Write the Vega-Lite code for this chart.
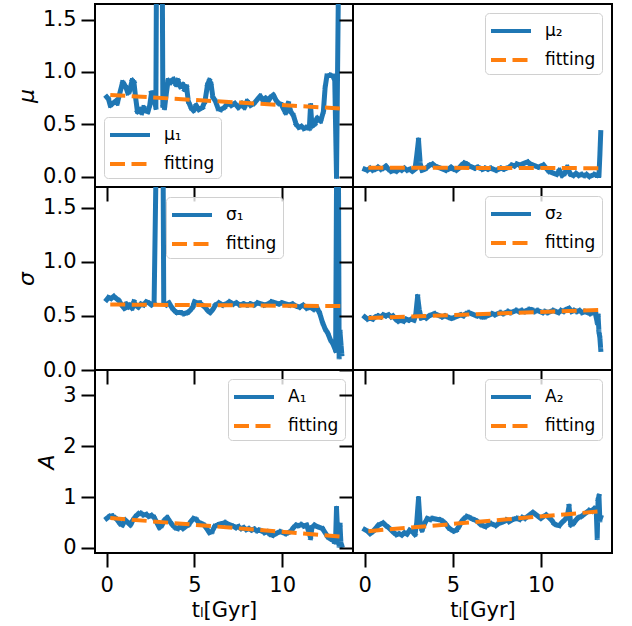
{
 "$schema": "https://vega.github.io/schema/vega-lite/v6.json",
 "background": "white",
 "padding": {"left": 14, "top": 3, "right": 10, "bottom": 2},
 "columns": 2,
 "spacing": 0,
 "bounds": "flush",
 "resolve": {"scale": {"color": "independent", "strokeDash": "independent", "x": "independent", "y": "independent"}, "legend": {"color": "independent", "strokeDash": "independent"}},
 "config": {
  "font": "DejaVu Sans",
  "view": {"stroke": "black", "strokeWidth": 2},
  "axis": {"domain": false, "grid": false, "tickColor": "black", "tickWidth": 2, "tickSize": 14, "labelColor": "black", "labelFont": "DejaVu Sans", "labelFontSize": 21, "labelPadding": 5, "titleFont": "DejaVu Sans", "titleFontSize": 21, "titleFontWeight": "normal", "titleColor": "black"},
  "legend": {"orient": "none", "title": null, "labelFont": "DejaVu Sans", "labelFontSize": 17, "labelColor": "black", "symbolType": "M-2,0H2", "symbolSize": 400, "symbolStrokeWidth": 4, "symbolOffset": 8, "labelOffset": 22, "padding": 6, "rowPadding": 9, "fillColor": "rgba(255,255,255,0.8)", "strokeColor": "#d0d0d0", "cornerRadius": 4}
 },
 "concat": [
  {
   "width": 258, "height": 183,
   "layer": [
    {"data": {"values": [
     {"t":0.0,"v":0.76,"s":"μ₁"},{"t":0.1,"v":0.74,"s":"μ₁"},{"t":0.2,"v":0.68,"s":"μ₁"},{"t":0.35,"v":0.7,"s":"μ₁"},{"t":0.5,"v":0.72,"s":"μ₁"},{"t":0.6,"v":0.7,"s":"μ₁"},{"t":0.75,"v":0.8,"s":"μ₁"},{"t":0.9,"v":0.9,"s":"μ₁"},{"t":1.0,"v":0.88,"s":"μ₁"},{"t":1.1,"v":0.85,"s":"μ₁"},{"t":1.2,"v":0.8,"s":"μ₁"},{"t":1.3,"v":0.82,"s":"μ₁"},{"t":1.45,"v":0.92,"s":"μ₁"},{"t":1.55,"v":0.9,"s":"μ₁"},{"t":1.65,"v":0.75,"s":"μ₁"},{"t":1.75,"v":0.62,"s":"μ₁"},{"t":1.9,"v":0.64,"s":"μ₁"},{"t":2.0,"v":0.61,"s":"μ₁"},{"t":2.1,"v":0.66,"s":"μ₁"},{"t":2.2,"v":0.63,"s":"μ₁"},{"t":2.35,"v":0.62,"s":"μ₁"},{"t":2.45,"v":0.68,"s":"μ₁"},{"t":2.55,"v":0.8,"s":"μ₁"},{"t":2.65,"v":0.74,"s":"μ₁"},{"t":2.75,"v":0.7,"s":"μ₁"},{"t":2.8,"v":0.66,"s":"μ₁"},{"t":2.85,"v":2.5,"s":"μ₁"},{"t":3.15,"v":2.5,"s":"μ₁"},{"t":3.2,"v":0.68,"s":"μ₁"},{"t":3.3,"v":0.66,"s":"μ₁"},{"t":3.4,"v":0.8,"s":"μ₁"},{"t":3.5,"v":0.92,"s":"μ₁"},{"t":3.65,"v":0.9,"s":"μ₁"},{"t":3.8,"v":0.93,"s":"μ₁"},{"t":3.95,"v":0.88,"s":"μ₁"},{"t":4.05,"v":0.92,"s":"μ₁"},{"t":4.2,"v":0.86,"s":"μ₁"},{"t":4.35,"v":0.88,"s":"μ₁"},{"t":4.45,"v":0.83,"s":"μ₁"},{"t":4.55,"v":0.86,"s":"μ₁"},{"t":4.65,"v":0.72,"s":"μ₁"},{"t":4.8,"v":0.66,"s":"μ₁"},{"t":4.95,"v":0.63,"s":"μ₁"},{"t":5.1,"v":0.68,"s":"μ₁"},{"t":5.25,"v":0.64,"s":"μ₁"},{"t":5.45,"v":0.66,"s":"μ₁"},{"t":5.6,"v":0.72,"s":"μ₁"},{"t":5.75,"v":0.88,"s":"μ₁"},{"t":5.85,"v":0.92,"s":"μ₁"},{"t":5.95,"v":0.88,"s":"μ₁"},{"t":6.05,"v":0.76,"s":"μ₁"},{"t":6.2,"v":0.72,"s":"μ₁"},{"t":6.35,"v":0.65,"s":"μ₁"},{"t":6.5,"v":0.64,"s":"μ₁"},{"t":6.7,"v":0.66,"s":"μ₁"},{"t":6.9,"v":0.7,"s":"μ₁"},{"t":7.1,"v":0.68,"s":"μ₁"},{"t":7.3,"v":0.7,"s":"μ₁"},{"t":7.5,"v":0.66,"s":"μ₁"},{"t":7.7,"v":0.7,"s":"μ₁"},{"t":7.85,"v":0.66,"s":"μ₁"},{"t":8.0,"v":0.72,"s":"μ₁"},{"t":8.2,"v":0.68,"s":"μ₁"},{"t":8.4,"v":0.7,"s":"μ₁"},{"t":8.6,"v":0.74,"s":"μ₁"},{"t":8.75,"v":0.77,"s":"μ₁"},{"t":8.9,"v":0.73,"s":"μ₁"},{"t":9.05,"v":0.75,"s":"μ₁"},{"t":9.2,"v":0.72,"s":"μ₁"},{"t":9.35,"v":0.76,"s":"μ₁"},{"t":9.5,"v":0.78,"s":"μ₁"},{"t":9.65,"v":0.73,"s":"μ₁"},{"t":9.8,"v":0.7,"s":"μ₁"},{"t":9.95,"v":0.69,"s":"μ₁"},{"t":10.1,"v":0.64,"s":"μ₁"},{"t":10.2,"v":0.61,"s":"μ₁"},{"t":10.35,"v":0.7,"s":"μ₁"},{"t":10.5,"v":0.62,"s":"μ₁"},{"t":10.65,"v":0.58,"s":"μ₁"},{"t":10.8,"v":0.5,"s":"μ₁"},{"t":10.95,"v":0.47,"s":"μ₁"},{"t":11.1,"v":0.48,"s":"μ₁"},{"t":11.25,"v":0.46,"s":"μ₁"},{"t":11.4,"v":0.47,"s":"μ₁"},{"t":11.55,"v":0.46,"s":"μ₁"},{"t":11.62,"v":0.68,"s":"μ₁"},{"t":11.7,"v":0.48,"s":"μ₁"},{"t":11.85,"v":0.5,"s":"μ₁"},{"t":12.0,"v":0.56,"s":"μ₁"},{"t":12.2,"v":0.53,"s":"μ₁"},{"t":12.35,"v":0.62,"s":"μ₁"},{"t":12.45,"v":0.85,"s":"μ₁"},{"t":12.55,"v":0.96,"s":"μ₁"},{"t":12.75,"v":0.97,"s":"μ₁"},{"t":12.9,"v":0.96,"s":"μ₁"},{"t":13.0,"v":0.92,"s":"μ₁"},{"t":13.1,"v":0.0,"s":"μ₁"},{"t":13.25,"v":2.5,"s":"μ₁"},{"t":13.4,"v":2.5,"s":"μ₁"}
    ]},
     "mark": {"type": "line", "clip": true, "strokeWidth": 5, "strokeCap": "square", "strokeJoin": "round"},
     "encoding": {
      "x": {"field": "t", "type": "quantitative", "scale": {"domain": [-0.67, 14.04], "nice": false, "zero": false}, "axis": {"values": [0, 5, 10], "labels": false, "title": null}},
      "y": {"field": "v", "type": "quantitative", "scale": {"domain": [-0.1, 1.65], "nice": false, "zero": false}, "axis": {"values": [0, 0.5, 1, 1.5], "format": ".1f", "title": "μ", "titleFontStyle": "italic", "titleFontSize": 22}},
      "color": {"field": "s", "type": "nominal", "scale": {"domain": ["μ₁", "fitting"], "range": ["#1f77b4", "#ff7f0e"]}, "legend": {"legendX": 9, "legendY": 113}},
      "strokeDash": {"field": "s", "type": "nominal", "scale": {"domain": ["μ₁", "fitting"], "range": [[1, 0], [15, 6.5]]}, "legend": {"legendX": 9, "legendY": 113}}
     }},
    {"data": {"values": [{"t":0.2,"v":0.78,"s":"fitting"},{"t":13.4,"v":0.65,"s":"fitting"}]},
     "mark": {"type": "line", "clip": true, "strokeWidth": 4, "strokeCap": "butt"},
     "encoding": {"x": {"field": "t", "type": "quantitative"}, "y": {"field": "v", "type": "quantitative"}, "color": {"field": "s", "type": "nominal"}, "strokeDash": {"field": "s", "type": "nominal"}}}
   ]
  },
  {
   "width": 259, "height": 183,
   "layer": [
    {"data": {"values": [
     {"t":0.0,"v":0.07,"s":"μ₂"},{"t":0.15,"v":0.06,"s":"μ₂"},{"t":0.3,"v":0.08,"s":"μ₂"},{"t":0.45,"v":0.06,"s":"μ₂"},{"t":0.6,"v":0.07,"s":"μ₂"},{"t":0.75,"v":0.09,"s":"μ₂"},{"t":0.9,"v":0.07,"s":"μ₂"},{"t":1.05,"v":0.08,"s":"μ₂"},{"t":1.2,"v":0.1,"s":"μ₂"},{"t":1.35,"v":0.07,"s":"μ₂"},{"t":1.5,"v":0.05,"s":"μ₂"},{"t":1.65,"v":0.06,"s":"μ₂"},{"t":1.8,"v":0.05,"s":"μ₂"},{"t":1.95,"v":0.07,"s":"μ₂"},{"t":2.1,"v":0.06,"s":"μ₂"},{"t":2.25,"v":0.08,"s":"μ₂"},{"t":2.4,"v":0.06,"s":"μ₂"},{"t":2.55,"v":0.07,"s":"μ₂"},{"t":2.7,"v":0.05,"s":"μ₂"},{"t":2.85,"v":0.07,"s":"μ₂"},{"t":2.95,"v":0.2,"s":"μ₂"},{"t":3.05,"v":0.35,"s":"μ₂"},{"t":3.15,"v":0.12,"s":"μ₂"},{"t":3.25,"v":0.06,"s":"μ₂"},{"t":3.4,"v":0.07,"s":"μ₂"},{"t":3.55,"v":0.09,"s":"μ₂"},{"t":3.7,"v":0.11,"s":"μ₂"},{"t":3.85,"v":0.12,"s":"μ₂"},{"t":4.0,"v":0.1,"s":"μ₂"},{"t":4.15,"v":0.09,"s":"μ₂"},{"t":4.3,"v":0.08,"s":"μ₂"},{"t":4.45,"v":0.07,"s":"μ₂"},{"t":4.6,"v":0.06,"s":"μ₂"},{"t":4.75,"v":0.07,"s":"μ₂"},{"t":4.9,"v":0.09,"s":"μ₂"},{"t":5.05,"v":0.07,"s":"μ₂"},{"t":5.2,"v":0.06,"s":"μ₂"},{"t":5.35,"v":0.08,"s":"μ₂"},{"t":5.5,"v":0.11,"s":"μ₂"},{"t":5.65,"v":0.13,"s":"μ₂"},{"t":5.8,"v":0.12,"s":"μ₂"},{"t":5.95,"v":0.1,"s":"μ₂"},{"t":6.1,"v":0.09,"s":"μ₂"},{"t":6.25,"v":0.08,"s":"μ₂"},{"t":6.4,"v":0.09,"s":"μ₂"},{"t":6.55,"v":0.08,"s":"μ₂"},{"t":6.7,"v":0.07,"s":"μ₂"},{"t":6.85,"v":0.08,"s":"μ₂"},{"t":7.0,"v":0.07,"s":"μ₂"},{"t":7.15,"v":0.08,"s":"μ₂"},{"t":7.3,"v":0.07,"s":"μ₂"},{"t":7.45,"v":0.06,"s":"μ₂"},{"t":7.6,"v":0.07,"s":"μ₂"},{"t":7.75,"v":0.08,"s":"μ₂"},{"t":7.9,"v":0.07,"s":"μ₂"},{"t":8.05,"v":0.08,"s":"μ₂"},{"t":8.2,"v":0.09,"s":"μ₂"},{"t":8.35,"v":0.11,"s":"μ₂"},{"t":8.5,"v":0.1,"s":"μ₂"},{"t":8.65,"v":0.12,"s":"μ₂"},{"t":8.8,"v":0.11,"s":"μ₂"},{"t":8.95,"v":0.12,"s":"μ₂"},{"t":9.1,"v":0.13,"s":"μ₂"},{"t":9.25,"v":0.14,"s":"μ₂"},{"t":9.4,"v":0.12,"s":"μ₂"},{"t":9.55,"v":0.11,"s":"μ₂"},{"t":9.7,"v":0.1,"s":"μ₂"},{"t":9.85,"v":0.09,"s":"μ₂"},{"t":10.0,"v":0.1,"s":"μ₂"},{"t":10.15,"v":0.11,"s":"μ₂"},{"t":10.3,"v":0.08,"s":"μ₂"},{"t":10.45,"v":0.05,"s":"μ₂"},{"t":10.6,"v":0.04,"s":"μ₂"},{"t":10.75,"v":0.03,"s":"μ₂"},{"t":10.9,"v":0.02,"s":"μ₂"},{"t":11.05,"v":0.06,"s":"μ₂"},{"t":11.2,"v":0.01,"s":"μ₂"},{"t":11.35,"v":0.03,"s":"μ₂"},{"t":11.5,"v":0.09,"s":"μ₂"},{"t":11.6,"v":0.05,"s":"μ₂"},{"t":11.7,"v":0.02,"s":"μ₂"},{"t":11.85,"v":0.01,"s":"μ₂"},{"t":12.0,"v":0.03,"s":"μ₂"},{"t":12.15,"v":0.01,"s":"μ₂"},{"t":12.3,"v":0.02,"s":"μ₂"},{"t":12.45,"v":0.01,"s":"μ₂"},{"t":12.6,"v":0.02,"s":"μ₂"},{"t":12.75,"v":0.0,"s":"μ₂"},{"t":12.9,"v":0.01,"s":"μ₂"},{"t":13.05,"v":0.02,"s":"μ₂"},{"t":13.2,"v":0.01,"s":"μ₂"},{"t":13.3,"v":0.01,"s":"μ₂"},{"t":13.35,"v":0.2,"s":"μ₂"},{"t":13.4,"v":0.42,"s":"μ₂"}
    ]},
     "mark": {"type": "line", "clip": true, "strokeWidth": 5, "strokeCap": "square", "strokeJoin": "round"},
     "encoding": {
      "x": {"field": "t", "type": "quantitative", "scale": {"domain": [-0.67, 14.04], "nice": false, "zero": false}, "axis": {"values": [0, 5, 10], "labels": false, "title": null}},
      "y": {"field": "v", "type": "quantitative", "scale": {"domain": [-0.1, 1.65], "nice": false, "zero": false}, "axis": {"values": [0, 0.5, 1, 1.5], "labels": false, "title": null}},
      "color": {"field": "s", "type": "nominal", "scale": {"domain": ["μ₂", "fitting"], "range": ["#1f77b4", "#ff7f0e"]}, "legend": {"legendX": 132, "legendY": 9}},
      "strokeDash": {"field": "s", "type": "nominal", "scale": {"domain": ["μ₂", "fitting"], "range": [[1, 0], [15, 6.5]]}, "legend": {"legendX": 132, "legendY": 9}}
     }},
    {"data": {"values": [{"t":0.2,"v":0.085,"s":"fitting"},{"t":13.4,"v":0.08,"s":"fitting"}]},
     "mark": {"type": "line", "clip": true, "strokeWidth": 4, "strokeCap": "butt"},
     "encoding": {"x": {"field": "t", "type": "quantitative"}, "y": {"field": "v", "type": "quantitative"}, "color": {"field": "s", "type": "nominal"}, "strokeDash": {"field": "s", "type": "nominal"}}}
   ]
  },
  {
   "width": 258, "height": 183,
   "layer": [
    {"data": {"values": [
     {"t":0.0,"v":0.65,"s":"σ₁"},{"t":0.1,"v":0.67,"s":"σ₁"},{"t":0.25,"v":0.66,"s":"σ₁"},{"t":0.4,"v":0.68,"s":"σ₁"},{"t":0.55,"v":0.66,"s":"σ₁"},{"t":0.7,"v":0.64,"s":"σ₁"},{"t":0.85,"v":0.6,"s":"σ₁"},{"t":1.0,"v":0.57,"s":"σ₁"},{"t":1.1,"v":0.61,"s":"σ₁"},{"t":1.2,"v":0.58,"s":"σ₁"},{"t":1.3,"v":0.6,"s":"σ₁"},{"t":1.45,"v":0.57,"s":"σ₁"},{"t":1.55,"v":0.63,"s":"σ₁"},{"t":1.65,"v":0.6,"s":"σ₁"},{"t":1.8,"v":0.58,"s":"σ₁"},{"t":1.95,"v":0.61,"s":"σ₁"},{"t":2.1,"v":0.6,"s":"σ₁"},{"t":2.25,"v":0.63,"s":"σ₁"},{"t":2.4,"v":0.62,"s":"σ₁"},{"t":2.55,"v":0.6,"s":"σ₁"},{"t":2.7,"v":0.62,"s":"σ₁"},{"t":2.85,"v":2.3,"s":"σ₁"},{"t":3.2,"v":2.3,"s":"σ₁"},{"t":3.25,"v":0.62,"s":"σ₁"},{"t":3.4,"v":0.6,"s":"σ₁"},{"t":3.55,"v":0.62,"s":"σ₁"},{"t":3.7,"v":0.58,"s":"σ₁"},{"t":3.85,"v":0.55,"s":"σ₁"},{"t":4.0,"v":0.53,"s":"σ₁"},{"t":4.2,"v":0.53,"s":"σ₁"},{"t":4.4,"v":0.52,"s":"σ₁"},{"t":4.6,"v":0.53,"s":"σ₁"},{"t":4.75,"v":0.55,"s":"σ₁"},{"t":4.9,"v":0.58,"s":"σ₁"},{"t":5.0,"v":0.63,"s":"σ₁"},{"t":5.15,"v":0.62,"s":"σ₁"},{"t":5.3,"v":0.62,"s":"σ₁"},{"t":5.45,"v":0.6,"s":"σ₁"},{"t":5.6,"v":0.58,"s":"σ₁"},{"t":5.75,"v":0.55,"s":"σ₁"},{"t":5.9,"v":0.53,"s":"σ₁"},{"t":6.05,"v":0.56,"s":"σ₁"},{"t":6.2,"v":0.6,"s":"σ₁"},{"t":6.4,"v":0.62,"s":"σ₁"},{"t":6.6,"v":0.6,"s":"σ₁"},{"t":6.8,"v":0.61,"s":"σ₁"},{"t":7.0,"v":0.63,"s":"σ₁"},{"t":7.2,"v":0.61,"s":"σ₁"},{"t":7.4,"v":0.62,"s":"σ₁"},{"t":7.6,"v":0.6,"s":"σ₁"},{"t":7.8,"v":0.61,"s":"σ₁"},{"t":8.0,"v":0.6,"s":"σ₁"},{"t":8.2,"v":0.61,"s":"σ₁"},{"t":8.4,"v":0.6,"s":"σ₁"},{"t":8.6,"v":0.62,"s":"σ₁"},{"t":8.8,"v":0.61,"s":"σ₁"},{"t":9.0,"v":0.6,"s":"σ₁"},{"t":9.2,"v":0.61,"s":"σ₁"},{"t":9.4,"v":0.63,"s":"σ₁"},{"t":9.6,"v":0.62,"s":"σ₁"},{"t":9.8,"v":0.61,"s":"σ₁"},{"t":10.0,"v":0.62,"s":"σ₁"},{"t":10.2,"v":0.61,"s":"σ₁"},{"t":10.4,"v":0.6,"s":"σ₁"},{"t":10.6,"v":0.61,"s":"σ₁"},{"t":10.8,"v":0.59,"s":"σ₁"},{"t":11.0,"v":0.58,"s":"σ₁"},{"t":11.2,"v":0.6,"s":"σ₁"},{"t":11.4,"v":0.57,"s":"σ₁"},{"t":11.6,"v":0.58,"s":"σ₁"},{"t":11.8,"v":0.56,"s":"σ₁"},{"t":12.0,"v":0.57,"s":"σ₁"},{"t":12.15,"v":0.52,"s":"σ₁"},{"t":12.3,"v":0.44,"s":"σ₁"},{"t":12.45,"v":0.38,"s":"σ₁"},{"t":12.6,"v":0.34,"s":"σ₁"},{"t":12.75,"v":0.28,"s":"σ₁"},{"t":12.9,"v":0.24,"s":"σ₁"},{"t":13.05,"v":0.18,"s":"σ₁"},{"t":13.12,"v":2.3,"s":"σ₁"},{"t":13.2,"v":2.3,"s":"σ₁"},{"t":13.25,"v":0.12,"s":"σ₁"},{"t":13.3,"v":0.35,"s":"σ₁"},{"t":13.35,"v":0.25,"s":"σ₁"},{"t":13.4,"v":0.15,"s":"σ₁"}
    ]},
     "mark": {"type": "line", "clip": true, "strokeWidth": 5, "strokeCap": "square", "strokeJoin": "round"},
     "encoding": {
      "x": {"field": "t", "type": "quantitative", "scale": {"domain": [-0.67, 14.04], "nice": false, "zero": false}, "axis": {"values": [0, 5, 10], "labels": false, "title": null}},
      "y": {"field": "v", "type": "quantitative", "scale": {"domain": [0, 1.69], "nice": false, "zero": false}, "axis": {"values": [0, 0.5, 1, 1.5], "format": ".1f", "title": "σ", "titleFontStyle": "italic", "titleFontSize": 22}},
      "color": {"field": "s", "type": "nominal", "scale": {"domain": ["σ₁", "fitting"], "range": ["#1f77b4", "#ff7f0e"]}, "legend": {"legendX": 71, "legendY": 10}},
      "strokeDash": {"field": "s", "type": "nominal", "scale": {"domain": ["σ₁", "fitting"], "range": [[1, 0], [15, 6.5]]}, "legend": {"legendX": 71, "legendY": 10}}
     }},
    {"data": {"values": [{"t":0.2,"v":0.605,"s":"fitting"},{"t":13.4,"v":0.59,"s":"fitting"}]},
     "mark": {"type": "line", "clip": true, "strokeWidth": 4, "strokeCap": "butt"},
     "encoding": {"x": {"field": "t", "type": "quantitative"}, "y": {"field": "v", "type": "quantitative"}, "color": {"field": "s", "type": "nominal"}, "strokeDash": {"field": "s", "type": "nominal"}}}
   ]
  },
  {
   "width": 259, "height": 183,
   "layer": [
    {"data": {"values": [
     {"t":0.0,"v":0.49,"s":"σ₂"},{"t":0.15,"v":0.47,"s":"σ₂"},{"t":0.3,"v":0.48,"s":"σ₂"},{"t":0.45,"v":0.47,"s":"σ₂"},{"t":0.6,"v":0.49,"s":"σ₂"},{"t":0.75,"v":0.5,"s":"σ₂"},{"t":0.9,"v":0.49,"s":"σ₂"},{"t":1.05,"v":0.51,"s":"σ₂"},{"t":1.2,"v":0.5,"s":"σ₂"},{"t":1.35,"v":0.51,"s":"σ₂"},{"t":1.5,"v":0.49,"s":"σ₂"},{"t":1.6,"v":0.5,"s":"σ₂"},{"t":1.75,"v":0.47,"s":"σ₂"},{"t":1.9,"v":0.45,"s":"σ₂"},{"t":2.05,"v":0.46,"s":"σ₂"},{"t":2.2,"v":0.45,"s":"σ₂"},{"t":2.35,"v":0.47,"s":"σ₂"},{"t":2.5,"v":0.46,"s":"σ₂"},{"t":2.65,"v":0.47,"s":"σ₂"},{"t":2.8,"v":0.46,"s":"σ₂"},{"t":2.9,"v":0.52,"s":"σ₂"},{"t":3.0,"v":0.68,"s":"σ₂"},{"t":3.1,"v":0.55,"s":"σ₂"},{"t":3.2,"v":0.48,"s":"σ₂"},{"t":3.35,"v":0.49,"s":"σ₂"},{"t":3.5,"v":0.48,"s":"σ₂"},{"t":3.65,"v":0.5,"s":"σ₂"},{"t":3.8,"v":0.51,"s":"σ₂"},{"t":3.95,"v":0.52,"s":"σ₂"},{"t":4.1,"v":0.51,"s":"σ₂"},{"t":4.25,"v":0.5,"s":"σ₂"},{"t":4.4,"v":0.49,"s":"σ₂"},{"t":4.55,"v":0.5,"s":"σ₂"},{"t":4.7,"v":0.49,"s":"σ₂"},{"t":4.85,"v":0.48,"s":"σ₂"},{"t":5.0,"v":0.48,"s":"σ₂"},{"t":5.15,"v":0.49,"s":"σ₂"},{"t":5.3,"v":0.5,"s":"σ₂"},{"t":5.45,"v":0.51,"s":"σ₂"},{"t":5.6,"v":0.5,"s":"σ₂"},{"t":5.75,"v":0.52,"s":"σ₂"},{"t":5.9,"v":0.53,"s":"σ₂"},{"t":6.05,"v":0.52,"s":"σ₂"},{"t":6.2,"v":0.51,"s":"σ₂"},{"t":6.35,"v":0.5,"s":"σ₂"},{"t":6.5,"v":0.5,"s":"σ₂"},{"t":6.65,"v":0.49,"s":"σ₂"},{"t":6.8,"v":0.49,"s":"σ₂"},{"t":6.95,"v":0.5,"s":"σ₂"},{"t":7.1,"v":0.51,"s":"σ₂"},{"t":7.25,"v":0.52,"s":"σ₂"},{"t":7.4,"v":0.51,"s":"σ₂"},{"t":7.55,"v":0.52,"s":"σ₂"},{"t":7.7,"v":0.53,"s":"σ₂"},{"t":7.85,"v":0.52,"s":"σ₂"},{"t":8.0,"v":0.53,"s":"σ₂"},{"t":8.15,"v":0.54,"s":"σ₂"},{"t":8.3,"v":0.53,"s":"σ₂"},{"t":8.45,"v":0.54,"s":"σ₂"},{"t":8.6,"v":0.55,"s":"σ₂"},{"t":8.75,"v":0.54,"s":"σ₂"},{"t":8.9,"v":0.55,"s":"σ₂"},{"t":9.05,"v":0.54,"s":"σ₂"},{"t":9.2,"v":0.55,"s":"σ₂"},{"t":9.35,"v":0.56,"s":"σ₂"},{"t":9.5,"v":0.555,"s":"σ₂"},{"t":9.65,"v":0.54,"s":"σ₂"},{"t":9.8,"v":0.55,"s":"σ₂"},{"t":9.95,"v":0.54,"s":"σ₂"},{"t":10.1,"v":0.53,"s":"σ₂"},{"t":10.25,"v":0.54,"s":"σ₂"},{"t":10.4,"v":0.53,"s":"σ₂"},{"t":10.55,"v":0.54,"s":"σ₂"},{"t":10.7,"v":0.55,"s":"σ₂"},{"t":10.85,"v":0.54,"s":"σ₂"},{"t":11.0,"v":0.53,"s":"σ₂"},{"t":11.15,"v":0.55,"s":"σ₂"},{"t":11.3,"v":0.54,"s":"σ₂"},{"t":11.45,"v":0.56,"s":"σ₂"},{"t":11.6,"v":0.57,"s":"σ₂"},{"t":11.75,"v":0.54,"s":"σ₂"},{"t":11.9,"v":0.55,"s":"σ₂"},{"t":12.05,"v":0.54,"s":"σ₂"},{"t":12.2,"v":0.55,"s":"σ₂"},{"t":12.35,"v":0.53,"s":"σ₂"},{"t":12.5,"v":0.54,"s":"σ₂"},{"t":12.65,"v":0.53,"s":"σ₂"},{"t":12.8,"v":0.52,"s":"σ₂"},{"t":12.95,"v":0.53,"s":"σ₂"},{"t":13.1,"v":0.52,"s":"σ₂"},{"t":13.2,"v":0.44,"s":"σ₂"},{"t":13.25,"v":0.5,"s":"σ₂"},{"t":13.3,"v":0.35,"s":"σ₂"},{"t":13.35,"v":0.3,"s":"σ₂"},{"t":13.4,"v":0.19,"s":"σ₂"}
    ]},
     "mark": {"type": "line", "clip": true, "strokeWidth": 5, "strokeCap": "square", "strokeJoin": "round"},
     "encoding": {
      "x": {"field": "t", "type": "quantitative", "scale": {"domain": [-0.67, 14.04], "nice": false, "zero": false}, "axis": {"values": [0, 5, 10], "labels": false, "title": null}},
      "y": {"field": "v", "type": "quantitative", "scale": {"domain": [0, 1.69], "nice": false, "zero": false}, "axis": {"values": [0, 0.5, 1, 1.5], "labels": false, "title": null}},
      "color": {"field": "s", "type": "nominal", "scale": {"domain": ["σ₂", "fitting"], "range": ["#1f77b4", "#ff7f0e"]}, "legend": {"legendX": 132, "legendY": 9}},
      "strokeDash": {"field": "s", "type": "nominal", "scale": {"domain": ["σ₂", "fitting"], "range": [[1, 0], [15, 6.5]]}, "legend": {"legendX": 132, "legendY": 9}}
     }},
    {"data": {"values": [{"t":0.2,"v":0.48,"s":"fitting"},{"t":13.4,"v":0.555,"s":"fitting"}]},
     "mark": {"type": "line", "clip": true, "strokeWidth": 4, "strokeCap": "butt"},
     "encoding": {"x": {"field": "t", "type": "quantitative"}, "y": {"field": "v", "type": "quantitative"}, "color": {"field": "s", "type": "nominal"}, "strokeDash": {"field": "s", "type": "nominal"}}}
   ]
  },
  {
   "width": 258, "height": 183,
   "layer": [
    {"data": {"values": [
     {"t":0.0,"v":0.58,"s":"A₁"},{"t":0.15,"v":0.62,"s":"A₁"},{"t":0.3,"v":0.63,"s":"A₁"},{"t":0.45,"v":0.6,"s":"A₁"},{"t":0.6,"v":0.55,"s":"A₁"},{"t":0.75,"v":0.48,"s":"A₁"},{"t":0.9,"v":0.45,"s":"A₁"},{"t":1.05,"v":0.55,"s":"A₁"},{"t":1.2,"v":0.5,"s":"A₁"},{"t":1.35,"v":0.45,"s":"A₁"},{"t":1.5,"v":0.55,"s":"A₁"},{"t":1.65,"v":0.62,"s":"A₁"},{"t":1.8,"v":0.67,"s":"A₁"},{"t":1.95,"v":0.68,"s":"A₁"},{"t":2.1,"v":0.65,"s":"A₁"},{"t":2.25,"v":0.66,"s":"A₁"},{"t":2.4,"v":0.62,"s":"A₁"},{"t":2.55,"v":0.64,"s":"A₁"},{"t":2.7,"v":0.6,"s":"A₁"},{"t":2.85,"v":0.5,"s":"A₁"},{"t":3.0,"v":0.4,"s":"A₁"},{"t":3.15,"v":0.45,"s":"A₁"},{"t":3.3,"v":0.55,"s":"A₁"},{"t":3.45,"v":0.6,"s":"A₁"},{"t":3.6,"v":0.52,"s":"A₁"},{"t":3.75,"v":0.45,"s":"A₁"},{"t":3.9,"v":0.4,"s":"A₁"},{"t":4.05,"v":0.38,"s":"A₁"},{"t":4.2,"v":0.42,"s":"A₁"},{"t":4.35,"v":0.38,"s":"A₁"},{"t":4.5,"v":0.42,"s":"A₁"},{"t":4.65,"v":0.45,"s":"A₁"},{"t":4.8,"v":0.52,"s":"A₁"},{"t":4.95,"v":0.58,"s":"A₁"},{"t":5.1,"v":0.56,"s":"A₁"},{"t":5.25,"v":0.5,"s":"A₁"},{"t":5.4,"v":0.48,"s":"A₁"},{"t":5.55,"v":0.45,"s":"A₁"},{"t":5.7,"v":0.38,"s":"A₁"},{"t":5.85,"v":0.3,"s":"A₁"},{"t":6.0,"v":0.32,"s":"A₁"},{"t":6.15,"v":0.42,"s":"A₁"},{"t":6.3,"v":0.45,"s":"A₁"},{"t":6.45,"v":0.47,"s":"A₁"},{"t":6.6,"v":0.48,"s":"A₁"},{"t":6.75,"v":0.5,"s":"A₁"},{"t":6.9,"v":0.47,"s":"A₁"},{"t":7.05,"v":0.45,"s":"A₁"},{"t":7.2,"v":0.43,"s":"A₁"},{"t":7.35,"v":0.4,"s":"A₁"},{"t":7.5,"v":0.42,"s":"A₁"},{"t":7.65,"v":0.38,"s":"A₁"},{"t":7.8,"v":0.4,"s":"A₁"},{"t":7.95,"v":0.36,"s":"A₁"},{"t":8.1,"v":0.38,"s":"A₁"},{"t":8.25,"v":0.35,"s":"A₁"},{"t":8.4,"v":0.37,"s":"A₁"},{"t":8.55,"v":0.34,"s":"A₁"},{"t":8.7,"v":0.35,"s":"A₁"},{"t":8.85,"v":0.33,"s":"A₁"},{"t":9.0,"v":0.3,"s":"A₁"},{"t":9.15,"v":0.32,"s":"A₁"},{"t":9.3,"v":0.27,"s":"A₁"},{"t":9.45,"v":0.25,"s":"A₁"},{"t":9.6,"v":0.27,"s":"A₁"},{"t":9.75,"v":0.3,"s":"A₁"},{"t":9.9,"v":0.32,"s":"A₁"},{"t":10.05,"v":0.3,"s":"A₁"},{"t":10.2,"v":0.28,"s":"A₁"},{"t":10.35,"v":0.3,"s":"A₁"},{"t":10.5,"v":0.33,"s":"A₁"},{"t":10.65,"v":0.4,"s":"A₁"},{"t":10.8,"v":0.45,"s":"A₁"},{"t":10.95,"v":0.44,"s":"A₁"},{"t":11.1,"v":0.46,"s":"A₁"},{"t":11.25,"v":0.43,"s":"A₁"},{"t":11.4,"v":0.45,"s":"A₁"},{"t":11.55,"v":0.28,"s":"A₁"},{"t":11.62,"v":0.2,"s":"A₁"},{"t":11.7,"v":0.4,"s":"A₁"},{"t":11.85,"v":0.45,"s":"A₁"},{"t":12.0,"v":0.42,"s":"A₁"},{"t":12.15,"v":0.4,"s":"A₁"},{"t":12.3,"v":0.38,"s":"A₁"},{"t":12.45,"v":0.3,"s":"A₁"},{"t":12.6,"v":0.22,"s":"A₁"},{"t":12.75,"v":0.18,"s":"A₁"},{"t":12.9,"v":0.15,"s":"A₁"},{"t":13.0,"v":0.12,"s":"A₁"},{"t":13.05,"v":0.2,"s":"A₁"},{"t":13.1,"v":0.78,"s":"A₁"},{"t":13.15,"v":0.4,"s":"A₁"},{"t":13.2,"v":0.15,"s":"A₁"},{"t":13.25,"v":0.05,"s":"A₁"},{"t":13.3,"v":0.45,"s":"A₁"},{"t":13.35,"v":0.1,"s":"A₁"},{"t":13.4,"v":0.05,"s":"A₁"}
    ]},
     "mark": {"type": "line", "clip": true, "strokeWidth": 5, "strokeCap": "square", "strokeJoin": "round"},
     "encoding": {
      "x": {"field": "t", "type": "quantitative", "scale": {"domain": [-0.67, 14.04], "nice": false, "zero": false}, "axis": {"values": [0, 5, 10], "title": "tₗ[Gyr]", "labelPadding": 7}},
      "y": {"field": "v", "type": "quantitative", "scale": {"domain": [-0.1, 3.5], "nice": false, "zero": false}, "axis": {"values": [0, 1, 2, 3], "format": "d", "title": "A", "titleFontStyle": "italic", "titleFontSize": 22}},
      "color": {"field": "s", "type": "nominal", "scale": {"domain": ["A₁", "fitting"], "range": ["#1f77b4", "#ff7f0e"]}, "legend": {"legendX": 133, "legendY": 9}},
      "strokeDash": {"field": "s", "type": "nominal", "scale": {"domain": ["A₁", "fitting"], "range": [[1, 0], [15, 6.5]]}, "legend": {"legendX": 133, "legendY": 9}}
     }},
    {"data": {"values": [{"t":0.2,"v":0.59,"s":"fitting"},{"t":13.4,"v":0.22,"s":"fitting"}]},
     "mark": {"type": "line", "clip": true, "strokeWidth": 4, "strokeCap": "butt"},
     "encoding": {"x": {"field": "t", "type": "quantitative"}, "y": {"field": "v", "type": "quantitative"}, "color": {"field": "s", "type": "nominal"}, "strokeDash": {"field": "s", "type": "nominal"}}}
   ]
  },
  {
   "width": 259, "height": 183,
   "layer": [
    {"data": {"values": [
     {"t":0.0,"v":0.36,"s":"A₂"},{"t":0.15,"v":0.33,"s":"A₂"},{"t":0.3,"v":0.28,"s":"A₂"},{"t":0.45,"v":0.32,"s":"A₂"},{"t":0.6,"v":0.38,"s":"A₂"},{"t":0.75,"v":0.44,"s":"A₂"},{"t":0.9,"v":0.47,"s":"A₂"},{"t":1.05,"v":0.49,"s":"A₂"},{"t":1.2,"v":0.44,"s":"A₂"},{"t":1.35,"v":0.4,"s":"A₂"},{"t":1.5,"v":0.35,"s":"A₂"},{"t":1.65,"v":0.3,"s":"A₂"},{"t":1.8,"v":0.26,"s":"A₂"},{"t":1.95,"v":0.28,"s":"A₂"},{"t":2.1,"v":0.25,"s":"A₂"},{"t":2.25,"v":0.3,"s":"A₂"},{"t":2.4,"v":0.27,"s":"A₂"},{"t":2.55,"v":0.35,"s":"A₂"},{"t":2.7,"v":0.32,"s":"A₂"},{"t":2.85,"v":0.26,"s":"A₂"},{"t":2.95,"v":0.5,"s":"A₂"},{"t":3.05,"v":0.97,"s":"A₂"},{"t":3.15,"v":0.45,"s":"A₂"},{"t":3.25,"v":0.35,"s":"A₂"},{"t":3.4,"v":0.48,"s":"A₂"},{"t":3.55,"v":0.58,"s":"A₂"},{"t":3.7,"v":0.56,"s":"A₂"},{"t":3.85,"v":0.58,"s":"A₂"},{"t":4.0,"v":0.57,"s":"A₂"},{"t":4.15,"v":0.56,"s":"A₂"},{"t":4.3,"v":0.55,"s":"A₂"},{"t":4.45,"v":0.52,"s":"A₂"},{"t":4.6,"v":0.47,"s":"A₂"},{"t":4.75,"v":0.4,"s":"A₂"},{"t":4.9,"v":0.36,"s":"A₂"},{"t":5.05,"v":0.33,"s":"A₂"},{"t":5.2,"v":0.35,"s":"A₂"},{"t":5.35,"v":0.42,"s":"A₂"},{"t":5.5,"v":0.52,"s":"A₂"},{"t":5.65,"v":0.58,"s":"A₂"},{"t":5.8,"v":0.62,"s":"A₂"},{"t":5.95,"v":0.6,"s":"A₂"},{"t":6.1,"v":0.57,"s":"A₂"},{"t":6.25,"v":0.55,"s":"A₂"},{"t":6.4,"v":0.52,"s":"A₂"},{"t":6.55,"v":0.47,"s":"A₂"},{"t":6.7,"v":0.44,"s":"A₂"},{"t":6.85,"v":0.42,"s":"A₂"},{"t":7.0,"v":0.45,"s":"A₂"},{"t":7.15,"v":0.48,"s":"A₂"},{"t":7.3,"v":0.46,"s":"A₂"},{"t":7.45,"v":0.44,"s":"A₂"},{"t":7.6,"v":0.48,"s":"A₂"},{"t":7.75,"v":0.5,"s":"A₂"},{"t":7.9,"v":0.52,"s":"A₂"},{"t":8.05,"v":0.55,"s":"A₂"},{"t":8.2,"v":0.52,"s":"A₂"},{"t":8.35,"v":0.55,"s":"A₂"},{"t":8.5,"v":0.57,"s":"A₂"},{"t":8.65,"v":0.58,"s":"A₂"},{"t":8.8,"v":0.56,"s":"A₂"},{"t":8.95,"v":0.6,"s":"A₂"},{"t":9.1,"v":0.58,"s":"A₂"},{"t":9.25,"v":0.62,"s":"A₂"},{"t":9.4,"v":0.66,"s":"A₂"},{"t":9.55,"v":0.7,"s":"A₂"},{"t":9.7,"v":0.66,"s":"A₂"},{"t":9.85,"v":0.62,"s":"A₂"},{"t":10.0,"v":0.58,"s":"A₂"},{"t":10.15,"v":0.62,"s":"A₂"},{"t":10.3,"v":0.65,"s":"A₂"},{"t":10.45,"v":0.6,"s":"A₂"},{"t":10.6,"v":0.55,"s":"A₂"},{"t":10.75,"v":0.48,"s":"A₂"},{"t":10.9,"v":0.45,"s":"A₂"},{"t":11.05,"v":0.44,"s":"A₂"},{"t":11.2,"v":0.5,"s":"A₂"},{"t":11.35,"v":0.55,"s":"A₂"},{"t":11.5,"v":0.62,"s":"A₂"},{"t":11.6,"v":0.82,"s":"A₂"},{"t":11.7,"v":0.45,"s":"A₂"},{"t":11.85,"v":0.48,"s":"A₂"},{"t":12.0,"v":0.55,"s":"A₂"},{"t":12.15,"v":0.6,"s":"A₂"},{"t":12.3,"v":0.62,"s":"A₂"},{"t":12.45,"v":0.66,"s":"A₂"},{"t":12.6,"v":0.7,"s":"A₂"},{"t":12.75,"v":0.74,"s":"A₂"},{"t":12.9,"v":0.72,"s":"A₂"},{"t":13.05,"v":0.78,"s":"A₂"},{"t":13.15,"v":0.7,"s":"A₂"},{"t":13.2,"v":0.2,"s":"A₂"},{"t":13.25,"v":0.95,"s":"A₂"},{"t":13.3,"v":1.02,"s":"A₂"},{"t":13.35,"v":0.55,"s":"A₂"},{"t":13.4,"v":0.6,"s":"A₂"}
    ]},
     "mark": {"type": "line", "clip": true, "strokeWidth": 5, "strokeCap": "square", "strokeJoin": "round"},
     "encoding": {
      "x": {"field": "t", "type": "quantitative", "scale": {"domain": [-0.67, 14.04], "nice": false, "zero": false}, "axis": {"values": [0, 5, 10], "title": "tₗ[Gyr]", "labelPadding": 7}},
      "y": {"field": "v", "type": "quantitative", "scale": {"domain": [-0.1, 3.5], "nice": false, "zero": false}, "axis": {"values": [0, 1, 2, 3], "labels": false, "title": null}},
      "color": {"field": "s", "type": "nominal", "scale": {"domain": ["A₂", "fitting"], "range": ["#1f77b4", "#ff7f0e"]}, "legend": {"legendX": 132, "legendY": 9}},
      "strokeDash": {"field": "s", "type": "nominal", "scale": {"domain": ["A₂", "fitting"], "range": [[1, 0], [15, 6.5]]}, "legend": {"legendX": 132, "legendY": 9}}
     }},
    {"data": {"values": [{"t":0.2,"v":0.33,"s":"fitting"},{"t":13.4,"v":0.72,"s":"fitting"}]},
     "mark": {"type": "line", "clip": true, "strokeWidth": 4, "strokeCap": "butt"},
     "encoding": {"x": {"field": "t", "type": "quantitative"}, "y": {"field": "v", "type": "quantitative"}, "color": {"field": "s", "type": "nominal"}, "strokeDash": {"field": "s", "type": "nominal"}}}
   ]
  }
 ]
}
